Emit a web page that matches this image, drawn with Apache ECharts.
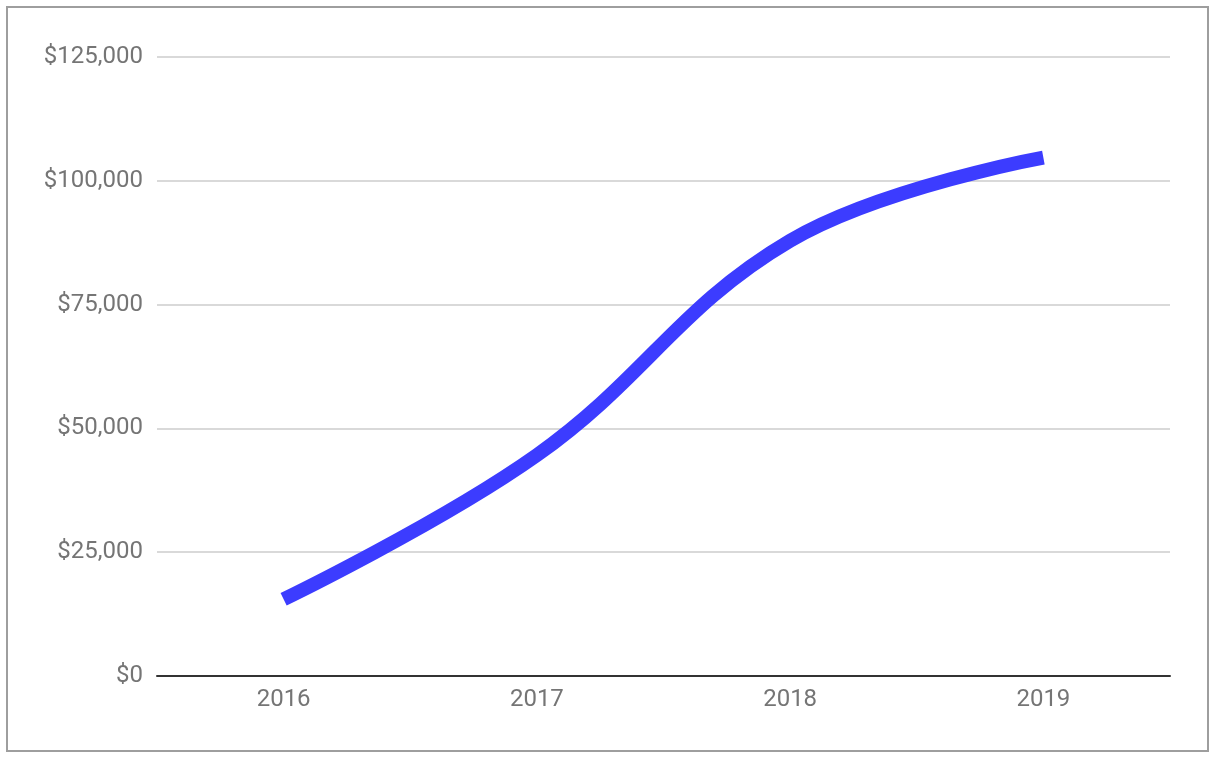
<!DOCTYPE html>
<html>
<head>
<meta charset="utf-8">
<script src="https://cdn.jsdelivr.net/npm/echarts@6/dist/echarts.min.js"></script>
<style>
html,body{margin:0;padding:0;background:#fff;}
#chart{width:1214px;height:758px;}
</style>
</head>
<body>
<div id="chart"></div>
<script>
const years = ['2016', '2017', '2018', '2019'];
const revenue = [15500, 44600, 87900, 104700];
const yTicks = [0, 25000, 50000, 75000, 100000, 125000];

const chart = echarts.init(document.getElementById('chart'));
chart.setOption({
  animation: false,
  backgroundColor: '#ffffff',
  graphic: [{
    type: 'rect',
    shape: { x: 7, y: 7, width: 1201, height: 744 },
    style: { fill: 'none', stroke: '#9e9e9e', lineWidth: 2 },
    silent: true
  }],
  grid: { left: 157, right: 44, top: 57, bottom: 82 },
  xAxis: {
    type: 'category',
    data: years,
    boundaryGap: true,
    axisLine: { lineStyle: { color: '#333333', width: 2 } },
    axisTick: { show: false },
    axisLabel: { color: '#757575', fontFamily: 'Roboto', fontSize: 24, margin: 12 }
  },
  yAxis: {
    type: 'value',
    min: yTicks[0],
    max: yTicks[yTicks.length - 1],
    interval: 25000,
    axisLine: { show: false },
    axisTick: { show: false },
    splitLine: { lineStyle: { color: '#cccccc', width: 1.5 } },
    axisLabel: {
      color: '#757575', fontFamily: 'Roboto', fontSize: 24, margin: 14,
      formatter: v => '$' + v.toLocaleString('en-US')
    }
  },
  series: [{
    type: 'line',
    data: revenue,
    smooth: 0.4,
    symbol: 'none',
    lineStyle: { color: '#3c3cff', width: 14, cap: 'butt' }
  }]
});
</script>
</body>
</html>
